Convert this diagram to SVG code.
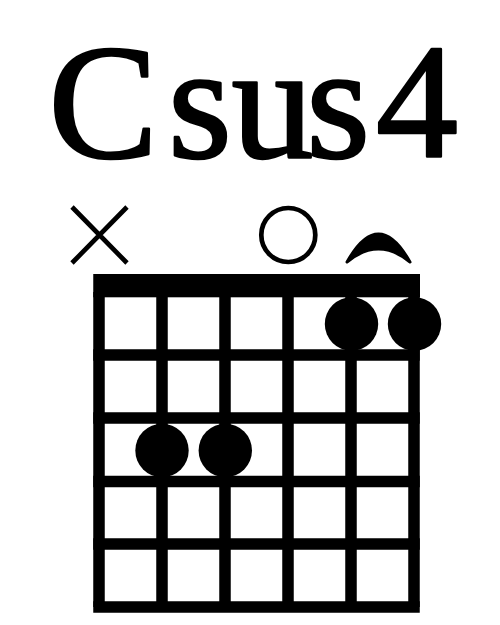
<svg xmlns="http://www.w3.org/2000/svg" width="500" height="625" viewBox="0 0 500 625">
<style>
.title{font-family:"Liberation Serif","Times New Roman",serif;font-size:164px;fill:#000;stroke:#000;stroke-width:2.5;stroke-linejoin:round}
.line{stroke:#000;stroke-width:11.5;fill:none}
.dot{fill:#000}
.mark{stroke:#000;stroke-width:4.7;fill:none}
</style>
<rect width="500" height="625" fill="#fff"/>
<g id="title"><text class="title" x="48.4 167.9 231.5 306.2 376" y="157">Csus4</text></g>
<g id="markers">
<g id="mute"><path class="mark" d="M72,207 L127,263 M127,207 L72,263"/></g>
<g id="open"><circle class="mark" cx="288.3" cy="235" r="27"/></g>
<g id="slur"><path d="M347,262 Q378.5,206 410,262 Q378.5,236 347,262 Z" fill="#000" stroke="#000" stroke-width="3" stroke-linejoin="round"/></g>
</g>
<g id="connectors">
<rect x="93.25" y="274" width="326.75" height="23.3" fill="#000"/>
<path class="line" d="M99,292V607M162,292V607M225,292V607M288,292V607M351,292V607M414,292V607"/>
<path class="line" d="M93.25,355H419.75M93.25,418H419.75M93.25,481.5H419.75M93.25,544H419.75M93.25,607H419.75"/>
</g>
<g id="dots">
<circle class="dot" cx="351.5" cy="324" r="26.7"/>
<circle class="dot" cx="414.5" cy="324" r="26.7"/>
<circle class="dot" cx="162" cy="450.5" r="26.7"/>
<circle class="dot" cx="225.3" cy="450.5" r="26.7"/>
</g>
</svg>
